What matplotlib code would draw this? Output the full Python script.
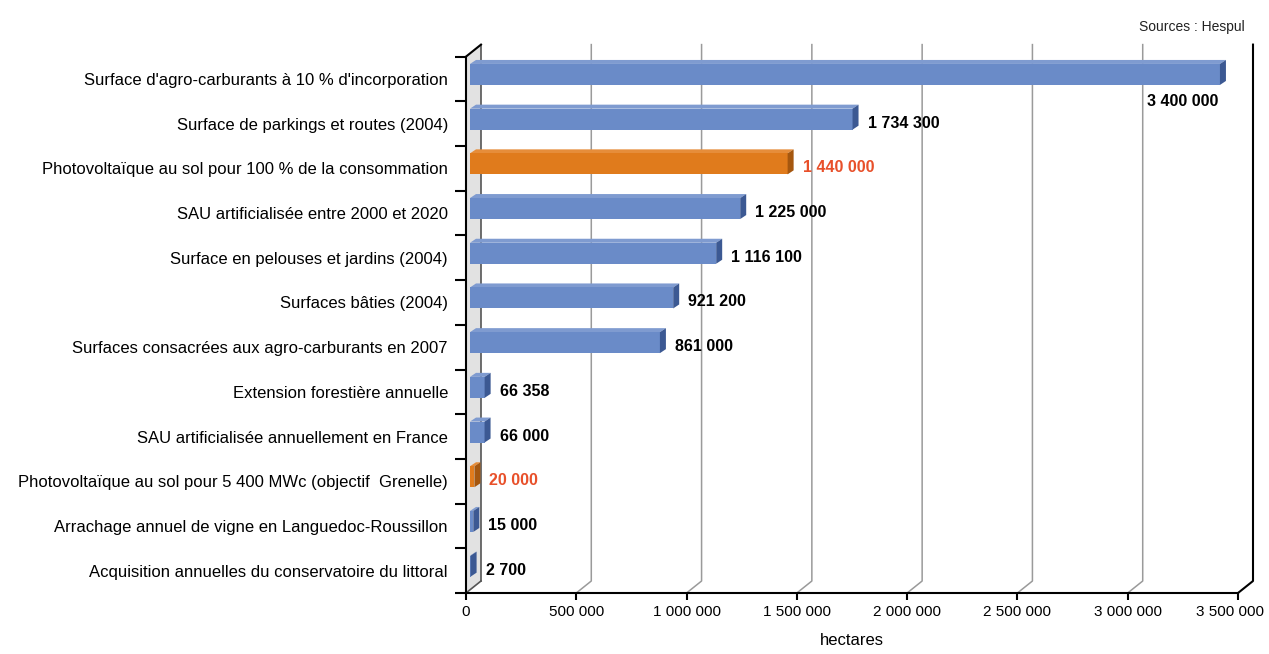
import numpy as np
import matplotlib.pyplot as plt
import matplotlib.transforms as mtransforms
from matplotlib.patches import Polygon

plt.rcParams['font.family'] = ['Liberation Sans', 'DejaVu Sans']

categories = ["Surface d'agro-carburants à 10 % d'incorporation",
              "Surface de parkings et routes (2004)",
              "Photovoltaïque au sol pour 100 % de la consommation",
              "SAU artificialisée entre 2000 et 2020",
              "Surface en pelouses et jardins (2004)",
              "Surfaces bâties (2004)",
              "Surfaces consacrées aux agro-carburants en 2007",
              "Extension forestière annuelle",
              "SAU artificialisée annuellement en France",
              "Photovoltaïque au sol pour 5 400 MWc (objectif  Grenelle)",
              "Arrachage annuel de vigne en Languedoc-Roussillon",
              "Acquisition annuelles du conservatoire du littoral"]
values = [3400000, 1734300, 1440000, 1225000, 1116100, 921200,
          861000, 66358, 66000, 20000, 15000, 2700]
highlight = [False, False, True, False, False, False,
             False, False, False, True, False, False]
xticks = [0, 500000, 1000000, 1500000, 2000000, 2500000, 3000000, 3500000]

blue, blue_dark, blue_top = '#6a8bc8', '#3c5993', '#7f9bd0'
orange, orange_dark, orange_top = '#e07b1c', '#a5570f', '#e68d3a'

W, H = 1269, 654
fig = plt.figure(figsize=(W / 100, H / 100), dpi=100)
ax_w, ax_h = 772, 536.4
ax = fig.add_axes([466 / W, (H - 593) / H, ax_w / W, ax_h / H])

xmax = 3500000
n = len(categories)
ax.set_xlim(0, xmax)
ax.set_ylim(-0.5, n - 0.5)
ux = xmax / ax_w          # data units per pixel
uy = n / ax_h

# depth of the pseudo 3d box
dx, dy = 15 * ux, 12 * uy
ybot, ytop = -0.5, n - 0.5

# left wall
wall = Polygon([(0, ybot), (dx, ybot + dy), (dx, ytop + dy), (0, ytop)],
               closed=True, fc='#e2e2e2', ec='none', clip_on=False, zorder=1)
ax.add_patch(wall)
ax.plot([0, dx], [ytop, ytop + dy], color='black', lw=1.5, clip_on=False, zorder=5)
ax.plot([dx, dx], [ybot + dy, ytop + dy], color='#555555', lw=1.2, clip_on=False, zorder=2)
ax.plot([0, dx], [ybot, ybot + dy], color='#555555', lw=1.2, clip_on=False, zorder=2)

# grid lines on the back wall and floor
for v in xticks[1:]:
    c = 'black' if v == xmax else '#9a9a9a'
    lw = 1.5 if v == xmax else 1.1
    ax.plot([v, v + dx, v + dx], [ybot, ybot + dy, ytop + dy],
            color=c, lw=lw, clip_on=False, zorder=1)

# bars
bh = 21 * uy
sx, sy = 4 * ux, 4.5 * uy
ex, ey = 6 * ux, 4 * uy
for i, (val, hl) in enumerate(zip(values, highlight)):
    yc = n - 1 - i + sy
    x0 = sx
    x1 = sx + val
    y0, y1 = yc - bh / 2, yc + bh / 2
    fc, dc, tc = (orange, orange_dark, orange_top) if hl else (blue, blue_dark, blue_top)
    ax.add_patch(Polygon([(x0, y1), (x1, y1), (x1 + ex, y1 + ey), (x0 + ex, y1 + ey)],
                         closed=True, fc=tc, ec='none', clip_on=False, zorder=3))
    ax.add_patch(Polygon([(x0, y0), (x1, y0), (x1, y1), (x0, y1)],
                         closed=True, fc=fc, ec='none', clip_on=False, zorder=3))
    ax.add_patch(Polygon([(x1, y0), (x1 + ex, y0 + ey), (x1 + ex, y1 + ey), (x1, y1)],
                         closed=True, fc=dc, ec='none', clip_on=False, zorder=3))
    label = f"{val:,}".replace(',', ' ')
    tcol = '#e8502a' if hl else 'black'
    if i == 0:
        ax.annotate(label, (x1 + ex, y0), xytext=(-8, -9), textcoords='offset pixels',
                    ha='right', va='top', fontsize=11.5, fontweight='bold', color=tcol)
    else:
        ax.annotate(label, (x1 + ex, yc), xytext=(9, -4), textcoords='offset pixels',
                    ha='left', va='center', fontsize=11.5, fontweight='bold', color=tcol)

# axes / ticks
for s in ['top', 'right']:
    ax.spines[s].set_visible(False)
ax.spines['left'].set_linewidth(1.5)
ax.spines['bottom'].set_linewidth(1.5)
ax.spines['left'].set_zorder(5)
ax.spines['bottom'].set_zorder(5)

ax.set_yticks(np.arange(-0.5, n, 1.0))
ax.set_yticklabels([])
ax.tick_params(axis='y', which='major', length=8, width=1.5, direction='out')
ax.set_yticks(np.arange(n), minor=True)
ax.set_yticklabels(categories[::-1], minor=True, fontsize=12)
ax.tick_params(axis='y', which='minor', length=0, pad=13)

ax.set_xticks(xticks)
ax.set_xticklabels([f"{v:,}".replace(',', ' ') for v in xticks], fontsize=11)
ax.tick_params(axis='x', length=5, width=1.5, direction='out', pad=4)
# nudge the last tick label so it stays inside the figure
last = ax.get_xticklabels()[-1]
last.set_transform(last.get_transform() +
                   mtransforms.ScaledTranslation(-8 / 100, 0, fig.dpi_scale_trans))
ax.set_xlabel('hectares', fontsize=12, labelpad=10)

fig.text(1245 / W, 1 - 27 / H, 'Sources : Hespul', ha='right', va='center',
         fontsize=10, color='#222222')

fig.savefig('out.png', dpi=100)
